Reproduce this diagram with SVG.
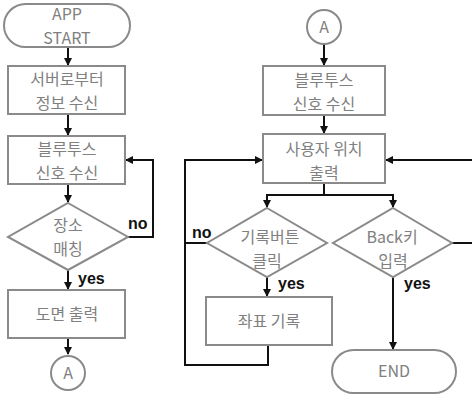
<svg xmlns="http://www.w3.org/2000/svg" width="472" height="395" viewBox="0 0 472 395">
<style>
.n{fill:#fff;stroke:#8a8a8a;stroke-width:2}
.t{font-family:"Noto Sans CJK KR","Noto Sans",sans-serif;font-size:16px;fill:#808080;text-anchor:middle}
.c{fill:none;stroke:#111;stroke-width:2}
.l{font-family:"Liberation Sans","DejaVu Sans",sans-serif;font-size:16px;font-weight:bold;fill:#111}
</style>
<defs>
<marker id="a" markerWidth="8" markerHeight="8" refX="7" refY="4" orient="auto" markerUnits="userSpaceOnUse">
<path d="M0,0 L8,4 L0,8 z" fill="#111"/>
</marker>
</defs>
<rect width="472" height="395" fill="#fff"/>
<g id="connectors">
<path class="c" d="M68,47 V65" marker-end="url(#a)"/>
<path class="c" d="M68,114 V135" marker-end="url(#a)"/>
<path class="c" d="M68,184 V202" marker-end="url(#a)"/>
<path class="c" d="M128,237 H153 V160 H126" marker-end="url(#a)"/>
<path class="c" d="M68,270 V289" marker-end="url(#a)"/>
<path class="c" d="M68,338 V354" marker-end="url(#a)"/>
<path class="c" d="M324,44 V65" marker-end="url(#a)"/>
<path class="c" d="M324,115 V133" marker-end="url(#a)"/>
<path class="c" d="M324,183 V195"/>
<path class="c" d="M267,195 H393"/>
<path class="c" d="M267,194 V207" marker-end="url(#a)"/>
<path class="c" d="M393,194 V207" marker-end="url(#a)"/>
<path class="c" d="M207,243 H185 V160 H262" marker-end="url(#a)"/>
<path class="c" d="M185,243 V365 H268 V345"/>
<path class="c" d="M267,277 V296" marker-end="url(#a)"/>
<path class="c" d="M452,243 H474 V160 H386" marker-end="url(#a)"/>
<path class="c" d="M393,277 V349" marker-end="url(#a)"/>
</g>
<g id="start">
<rect class="n" x="4" y="4" width="126" height="43" rx="21.5"/>
<text class="t"><tspan x="67" y="19.5">APP</tspan><tspan x="67" y="43.5">START</tspan></text>
</g>
<g id="server">
<rect class="n" x="8" y="66" width="117" height="48"/>
<text class="t"><tspan x="67" y="85">서버로부터</tspan><tspan x="67" y="109">정보 수신</tspan></text>
</g>
<g id="bt1">
<rect class="n" x="8" y="136" width="117" height="48"/>
<text class="t"><tspan x="67" y="155">블루투스</tspan><tspan x="67" y="179">신호 수신</tspan></text>
</g>
<g id="match">
<polygon class="n" points="68,203 128,237 68,270 8,237"/>
<text class="t"><tspan x="68" y="231">장소</tspan><tspan x="68" y="255">매칭</tspan></text>
</g>
<text class="l" x="128" y="229">no</text>
<text class="l" x="78" y="284">yes</text>
<g id="map">
<rect class="n" x="8" y="290" width="117" height="48"/>
<text class="t" x="67" y="320">도면 출력</text>
</g>
<g id="a1">
<circle class="n" cx="68" cy="373" r="17"/>
<text class="t" x="68" y="379">A</text>
</g>
<g id="a2">
<circle class="n" cx="324" cy="27" r="17"/>
<text class="t" x="324" y="33">A</text>
</g>
<g id="bt2">
<rect class="n" x="263" y="66" width="122" height="49"/>
<text class="t"><tspan x="324" y="86">블루투스</tspan><tspan x="324" y="110">신호 수신</tspan></text>
</g>
<g id="pos">
<rect class="n" x="263" y="134" width="122" height="49"/>
<text class="t"><tspan x="324" y="155">사용자 위치</tspan><tspan x="324" y="179">출력</tspan></text>
</g>
<g id="rec">
<polygon class="n" points="267,208 327,243 267,277 207,243"/>
<text class="t"><tspan x="270" y="243">기록버튼</tspan><tspan x="267" y="267">클릭</tspan></text>
</g>
<text class="l" x="192" y="238">no</text>
<text class="l" x="278" y="289">yes</text>
<g id="back">
<polygon class="n" points="393,208 452,243 393,277 333,243"/>
<text class="t"><tspan x="392" y="243">Back키</tspan><tspan x="393" y="267">입력</tspan></text>
</g>
<text class="l" x="404" y="289">yes</text>
<g id="coord">
<rect class="n" x="206" y="297" width="126" height="48"/>
<text class="t" x="269" y="327">좌표 기록</text>
</g>
<g id="end">
<rect class="n" x="332" y="350" width="124" height="43" rx="21.5"/>
<text class="t" x="394" y="377">END</text>
</g>
</svg>
